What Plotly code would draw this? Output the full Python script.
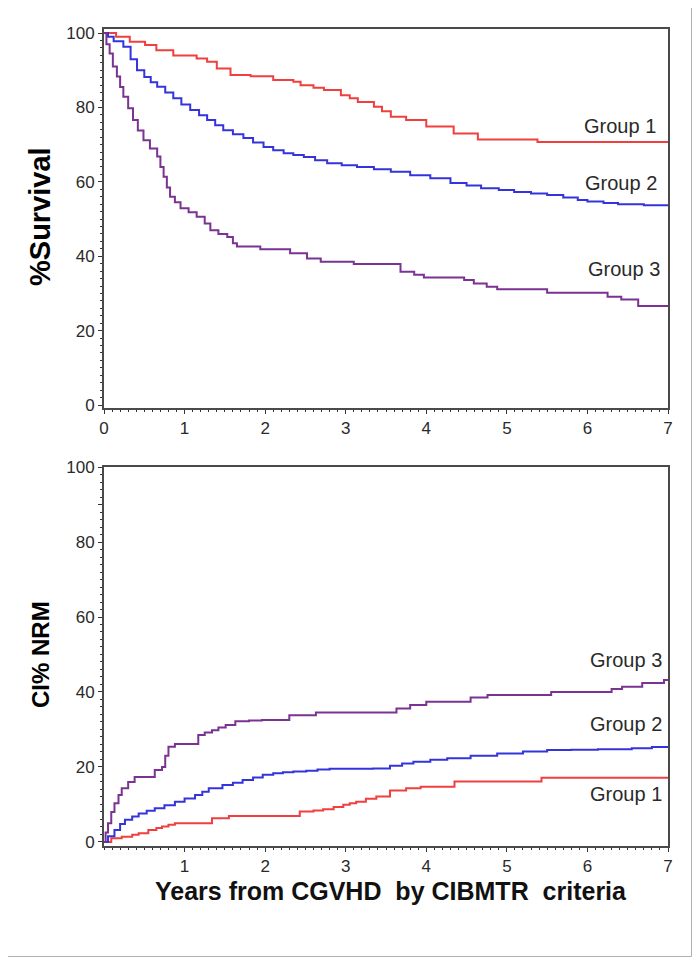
import plotly.graph_objects as go
from plotly.subplots import make_subplots

# ---- Survival (top panel) ----
surv_g1_t = [0, 0.15, 0.32, 0.51, 0.65, 0.86, 1.15, 1.28, 1.40, 1.57, 1.82, 2.1, 2.35, 2.44, 2.6, 2.73, 2.94, 3.05, 3.15, 3.35, 3.45, 3.56, 3.75, 4.0, 4.34, 4.64, 5.38, 7.0]
surv_g1_v = [100, 99, 97.7, 96.8, 95.4, 94, 93.2, 92.3, 90.5, 88.7, 88.4, 87.4, 86.9, 86, 85.3, 84.7, 83.3, 82.5, 81.5, 80.2, 79, 77.5, 76.6, 74.9, 73, 71.4, 70.7, 70.7]

surv_g2_t = [0, 0.05, 0.12, 0.24, 0.33, 0.41, 0.5, 0.58, 0.66, 0.76, 0.86, 0.96, 1.07, 1.18, 1.28, 1.38, 1.48, 1.6, 1.73, 1.85, 1.98, 2.1, 2.23, 2.35, 2.48, 2.62, 2.77, 2.95, 3.14, 3.35, 3.56, 3.8, 4.05, 4.3, 4.5, 4.68, 4.9, 5.09, 5.3, 5.5, 5.7, 5.88, 6.0, 6.2, 6.38, 6.7, 7.0]
surv_g2_v = [100, 99, 97.8, 96.3, 93, 90, 88.2, 86.8, 85.6, 84, 82.5, 80.8, 79.3, 77.9, 76.6, 75.2, 73.9, 72.8, 71.8, 70.6, 69.4, 68.5, 67.7, 67.2, 66.7, 65.8, 65, 64.5, 64, 63.4, 62.7, 61.8, 61, 59.7, 59, 58.3, 57.8, 57.3, 56.9, 56.5, 55.8, 55.1, 54.7, 54.3, 54, 53.7, 53.5]

surv_g3_t = [0, 0.03, 0.07, 0.11, 0.16, 0.2, 0.24, 0.3, 0.36, 0.42, 0.49, 0.57, 0.66, 0.7, 0.74, 0.78, 0.82, 0.88, 0.95, 1.05, 1.15, 1.25, 1.32, 1.42, 1.53, 1.6, 1.65, 1.94, 2.31, 2.52, 2.69, 3.1, 3.68, 3.85, 3.97, 4.47, 4.59, 4.75, 4.88, 5.5, 6.25, 6.42, 6.63, 7.0]
surv_g3_v = [100, 97, 94.5, 91, 88.3, 85.5, 82.9, 79.8, 76.6, 73.8, 71.2, 69, 66.8, 64, 61.4, 58.5, 56, 54.5, 52.9, 51.8, 50.6, 48.8, 47, 46, 45.2, 43.5, 42.6, 41.9, 40.8, 39.4, 38.5, 37.9, 35.8, 35, 34.3, 33.6, 32.7, 31.8, 31.1, 30.2, 29.1, 28.4, 26.6, 26.4]

# ---- Cumulative incidence NRM (bottom panel) ----
nrm_g1_t = [0, 0.09, 0.22, 0.35, 0.43, 0.55, 0.65, 0.72, 0.8, 0.88, 1.34, 1.55, 2.43, 2.6, 2.72, 2.85, 2.97, 3.05, 3.13, 3.25, 3.38, 3.55, 3.75, 3.93, 4.35, 5.43, 7.0]
nrm_g1_v = [0, 1, 1.4, 1.9, 2.3, 3.2, 3.7, 4.1, 4.6, 5, 6.3, 6.9, 8.1, 8.4, 8.7, 9.3, 9.9, 10.3, 10.7, 11.5, 12.1, 13.7, 14.3, 14.7, 16.1, 17.1, 17.1]

nrm_g2_t = [0, 0.05, 0.13, 0.2, 0.26, 0.35, 0.43, 0.53, 0.63, 0.75, 0.88, 1.0, 1.13, 1.22, 1.3, 1.47, 1.6, 1.72, 1.85, 1.97, 2.1, 2.22, 2.35, 2.51, 2.65, 2.8, 3.34, 3.55, 3.7, 3.84, 4.05, 4.26, 4.55, 4.88, 5.2, 5.5, 5.8, 6.13, 6.55, 6.8, 7.0]
nrm_g2_v = [0, 1.5, 3.2, 4.8, 5.9, 6.8, 7.6, 8.3, 9, 9.8, 10.7, 11.6, 12.5, 13.4, 14.3, 15.2, 15.8, 16.5, 17.2, 17.9, 18.3, 18.6, 18.8, 19, 19.3, 19.5, 19.6, 20.3, 20.9, 21.4, 21.9, 22.3, 23, 23.6, 24.1, 24.5, 24.6, 24.7, 25, 25.3, 25.6]

nrm_g3_t = [0, 0.02, 0.05, 0.09, 0.13, 0.18, 0.22, 0.3, 0.38, 0.63, 0.72, 0.76, 0.8, 0.88, 1.17, 1.25, 1.34, 1.42, 1.51, 1.63, 1.8, 1.96, 2.3, 2.63, 3.63, 3.8, 4.0, 4.55, 4.76, 5.55, 6.3, 6.43, 6.68, 6.95, 7.0]
nrm_g3_v = [0, 2.5, 5, 8, 10.3, 12.5, 14.3, 16, 17.3, 19.2, 20, 23, 25.4, 26.1, 28.5, 29.2, 29.8, 30.5, 31.2, 32.2, 32.4, 32.5, 33.8, 34.5, 35.6, 36.5, 37.4, 38.5, 39.2, 40, 40.8, 41.4, 42.4, 43.2, 43.2]

group_names = ["Group 1", "Group 2", "Group 3"]
colors = ["#ef3f3f", "#3434dc", "#7a3392"]

top_label_pos = [(6.87, 75.0), (6.89, 59.7), (6.93, 36.5)]
bot_label_pos = [(6.95, 12.8), (6.95, 31.4), (6.95, 48.5)]

FONT = "Liberation Sans, Arial, sans-serif"

fig = make_subplots(rows=2, cols=1, vertical_spacing=0.07)

surv = [(surv_g1_t, surv_g1_v), (surv_g2_t, surv_g2_v), (surv_g3_t, surv_g3_v)]
nrm = [(nrm_g1_t, nrm_g1_v), (nrm_g2_t, nrm_g2_v), (nrm_g3_t, nrm_g3_v)]

for i, (t, v) in enumerate(surv):
    fig.add_trace(go.Scatter(x=t, y=v, mode="lines", line=dict(color=colors[i], width=2, shape="hv"),
                             name=group_names[i], showlegend=False), row=1, col=1)
for i, (t, v) in enumerate(nrm):
    fig.add_trace(go.Scatter(x=t, y=v, mode="lines", line=dict(color=colors[i], width=2, shape="hv"),
                             name=group_names[i], showlegend=False), row=2, col=1)

# page body has an 8px margin: lay out in page pixels minus 8
OFF = 8
W, H = 684, 949
L = 104 - OFF
R = W - (668 - OFF)
T = 29 - OFF
BOT = 846 - OFF
B = H - BOT
ph = H - T - B
pw = W - L - R


def px_x(px):
    return (px - OFF - L) / pw


def px_y(py):
    return (BOT - (py - OFF)) / ph


top_dom = [px_y(408), 1.0]
bot_dom = [0.0, px_y(467)]

axis_common = dict(showline=True, linecolor="#4a4a4a", linewidth=2, mirror=True,
                   showgrid=False, zeroline=False, ticks="outside", ticklen=4,
                   tickcolor="#333", tickwidth=1,
                   tickfont=dict(family=FONT, size=17, color="#2a2a2a"))

fig.update_xaxes(range=[0, 7], tickvals=[0, 1, 2, 3, 4, 5, 6, 7],
                 minor=dict(ticks="outside", ticklen=2, dtick=0.1, tickcolor="#333"),
                 **axis_common, row=1, col=1)
fig.update_xaxes(range=[0, 7], tickvals=[1, 2, 3, 4, 5, 6, 7],
                 minor=dict(ticks="outside", ticklen=2, dtick=0.1, tickcolor="#333"),
                 **axis_common, row=2, col=1)
fig.update_yaxes(range=[-0.8, 101.1], tickvals=[0, 20, 40, 60, 80, 100], domain=top_dom,
                 minor=dict(ticks="outside", ticklen=2, dtick=2, tickcolor="#333"),
                 **axis_common, row=1, col=1)
fig.update_yaxes(range=[-1.07, 100], tickvals=[0, 20, 40, 60, 80, 90, 100],
                 ticktext=["0", "20", "40", "60", "80", "", "100"], domain=bot_dom,
                 minor=dict(ticks="outside", ticklen=2, dtick=2, tickcolor="#333"),
                 **axis_common, row=2, col=1)

annotations = []
for i, (x, y) in enumerate(top_label_pos):
    annotations.append(dict(x=x, y=y, xref="x", yref="y", text=group_names[i], showarrow=False,
                            xanchor="right", yanchor="middle",
                            font=dict(family=FONT, size=20, color="#2a2a2a")))
for i, (x, y) in enumerate(bot_label_pos):
    annotations.append(dict(x=x, y=y, xref="x2", yref="y2", text=group_names[i], showarrow=False,
                            xanchor="right", yanchor="middle",
                            font=dict(family=FONT, size=20, color="#2a2a2a")))

annotations.append(dict(x=px_x(40), y=px_y(217), xref="paper", yref="paper", text="<b>%Survival</b>",
                        showarrow=False, textangle=-90, xanchor="center", yanchor="middle",
                        font=dict(family=FONT, size=29, color="#000")))
annotations.append(dict(x=px_x(40), y=px_y(655), xref="paper", yref="paper", text="<b>CI% NRM</b>",
                        showarrow=False, textangle=-90, xanchor="center", yanchor="middle",
                        font=dict(family=FONT, size=24, color="#000")))
annotations.append(dict(x=px_x(391), y=px_y(875), xref="paper", yref="paper",
                        text="<b>Years from CGVHD&nbsp; by CIBMTR&nbsp; criteria</b>",
                        showarrow=False, xanchor="center", yanchor="top",
                        font=dict(family=FONT, size=25, color="#111")))

shapes = [dict(type="rect", xref="paper", yref="paper",
               x0=px_x(7.5), x1=px_x(691.5), y0=px_y(956.5), y1=px_y(7.5),
               line=dict(color="#b0b0b0", width=1), fillcolor="rgba(0,0,0,0)")]

fig.update_layout(width=W, height=H, margin=dict(l=L, r=R, t=T, b=B),
                  paper_bgcolor="white", plot_bgcolor="white",
                  annotations=annotations, shapes=shapes, showlegend=False)

fig.write_html("out.html")
